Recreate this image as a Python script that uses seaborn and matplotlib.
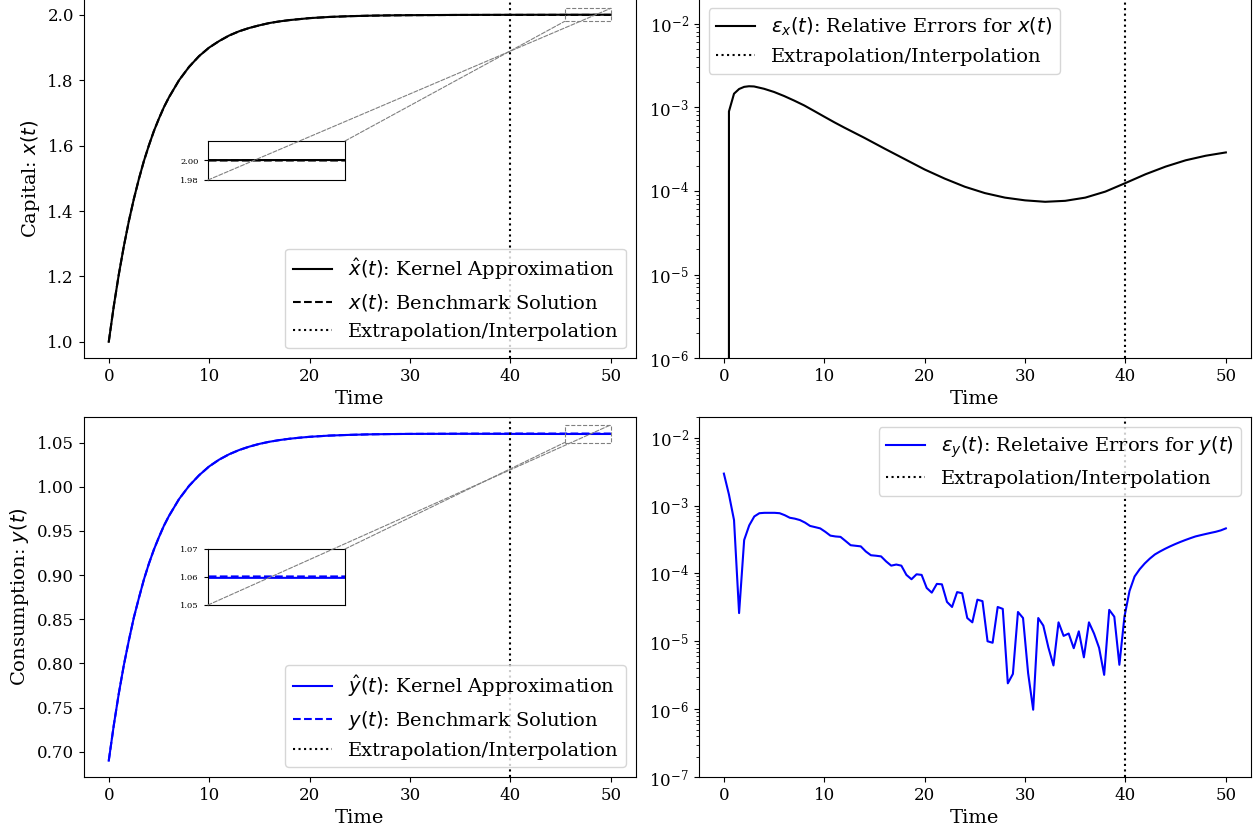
import numpy as np
import pandas as pd
import matplotlib
matplotlib.use("Agg")
import matplotlib.pyplot as plt
from matplotlib.patches import Rectangle, ConnectionPatch
from matplotlib.ticker import FormatStrFormatter
import seaborn as sns

plt.rcParams['font.family'] = ['DejaVu Serif']
plt.rcParams['mathtext.fontset'] = 'dejavusans'

# ---------------- data ----------------
t_path = [0, 0.5, 1, 1.5, 2, 2.5, 3, 3.5, 4, 4.5, 5, 5.5, 6, 7, 8, 9, 10,
          11, 12, 13, 14, 15, 16, 17, 18, 19, 20, 22, 24, 26, 28, 30, 35, 40, 45, 50]

x_bench = [1.000, 1.109, 1.206, 1.292, 1.369, 1.437, 1.498, 1.553, 1.601, 1.645,
           1.683, 1.718, 1.748, 1.800, 1.841, 1.874, 1.900,
           1.920, 1.937, 1.950, 1.960, 1.968, 1.975, 1.980, 1.984, 1.987, 1.990,
           1.9937, 1.9960, 1.9975, 1.9984, 1.9990, 1.9997, 1.9999, 2.0000, 2.0000]
x_kernel = [1.000, 1.109, 1.206, 1.292, 1.369, 1.437, 1.498, 1.553, 1.601, 1.645,
            1.683, 1.718, 1.748, 1.800, 1.841, 1.874, 1.900,
            1.920, 1.937, 1.950, 1.960, 1.968, 1.975, 1.980, 1.984, 1.987, 1.990,
            1.9937, 1.9960, 1.9975, 1.9985, 1.9991, 1.9999, 2.0002, 2.0004, 2.0005]

y_bench = [0.690, 0.730, 0.766, 0.798, 0.826, 0.852, 0.874, 0.895, 0.913, 0.929,
           0.943, 0.956, 0.967, 0.986, 1.001, 1.013, 1.023,
           1.0307, 1.0368, 1.0416, 1.0454, 1.0485, 1.0509, 1.0528, 1.0543, 1.0555, 1.0565,
           1.0579, 1.0587, 1.0593, 1.0596, 1.0598, 1.0601, 1.0602, 1.0602, 1.0602]
y_kernel = [0.690, 0.730, 0.766, 0.798, 0.826, 0.852, 0.874, 0.895, 0.913, 0.929,
            0.943, 0.956, 0.967, 0.986, 1.001, 1.013, 1.023,
            1.0307, 1.0368, 1.0416, 1.0454, 1.0485, 1.0509, 1.0528, 1.0543, 1.0555, 1.0565,
            1.0579, 1.0587, 1.0593, 1.0596, 1.0598, 1.0599, 1.0598, 1.0597, 1.0597]

t_errx = [0, 0.505, 1.01, 1.515, 2.02, 2.5, 3, 4, 5, 6, 7, 8, 9, 10, 11, 12,
          14, 16, 18, 20, 22, 24, 26, 28, 30, 32, 34, 36, 38, 40, 42, 44, 46, 48, 50]
err_x = [0.0, 8.9e-4, 1.45e-3, 1.65e-3, 1.75e-3, 1.78e-3, 1.77e-3, 1.66e-3, 1.52e-3,
         1.36e-3, 1.2e-3, 1.05e-3, 9.0e-4, 7.7e-4, 6.6e-4, 5.7e-4,
         4.3e-4, 3.2e-4, 2.4e-4, 1.80e-4, 1.40e-4, 1.12e-4, 9.4e-5, 8.3e-5, 7.7e-5,
         7.4e-5, 7.6e-5, 8.3e-5, 9.8e-5, 1.24e-4, 1.58e-4, 1.95e-4, 2.32e-4, 2.63e-4, 2.88e-4]

t_grid = np.linspace(0, 50, 100)
err_y = [2.95e-3, 1.45e-3, 6.1e-4, 2.6e-5, 3.1e-4, 5.1e-4, 6.9e-4, 7.7e-4, 7.8e-4, 7.8e-4,
         7.8e-4, 7.7e-4, 7.2e-4, 6.6e-4, 6.4e-4, 6.1e-4, 5.6e-4, 5.0e-4, 4.8e-4, 4.6e-4,
         4.1e-4, 3.6e-4, 3.5e-4, 3.45e-4, 3.0e-4, 2.6e-4, 2.55e-4, 2.5e-4, 2.1e-4, 1.85e-4,
         1.82e-4, 1.78e-4, 1.5e-4, 1.3e-4, 1.35e-4, 1.3e-4, 9.5e-5, 8.2e-5, 9.7e-5, 9.5e-5,
         6.1e-5, 5.2e-5, 7.0e-5, 6.9e-5, 3.8e-5, 3.2e-5, 5.3e-5, 5.1e-5, 2.2e-5, 1.9e-5,
         4.1e-5, 3.9e-5, 1.0e-5, 9.5e-6, 3.2e-5, 3.0e-5, 2.4e-6, 3.3e-6, 2.7e-5, 2.2e-5,
         3.4e-6, 9.8e-7, 2.2e-5, 1.7e-5, 8.1e-6, 4.4e-6, 1.9e-5, 1.2e-5, 1.3e-5, 7.9e-6,
         1.4e-5, 5.8e-6, 1.9e-5, 1.3e-5, 8.0e-6, 3.2e-6, 2.9e-5, 2.3e-5, 4.5e-6, 2.3e-5,
         5.5e-5, 9.0e-5, 1.15e-4, 1.4e-4, 1.65e-4, 1.9e-4, 2.1e-4, 2.3e-4, 2.5e-4, 2.7e-4,
         2.9e-4, 3.1e-4, 3.3e-4, 3.5e-4, 3.65e-4, 3.8e-4, 3.95e-4, 4.1e-4, 4.3e-4, 4.6e-4]

t_split = 40

# ---------------- figure ----------------
fig, axes = plt.subplots(2, 2, figsize=(12.58, 8.26), dpi=100)
fig.subplots_adjust(left=0.0665, right=0.9944, bottom=0.0593, top=1.002,
                    wspace=0.114, hspace=0.164)

FS_LAB = 14
FS_TICK = 12
FS_LEG = 14


def path_panel(ax, t, kern, bench, color, klab, blab, ylabel, zoom_ylim, zoom_ticks, inset_rect):
    sns.lineplot(x=t, y=kern, ax=ax, color=color, lw=1.5, label=klab,
                 sort=False, estimator=None)
    sns.lineplot(x=t, y=bench, ax=ax, color=color, lw=1.5, linestyle='--',
                 label=blab, sort=False, estimator=None)
    ax.axvline(t_split, color='k', ls=':', lw=1.5, label='Extrapolation/Interpolation')
    ax.set_xlabel('Time', fontsize=FS_LAB)
    ax.set_ylabel(ylabel, fontsize=FS_LAB)
    ax.tick_params(labelsize=FS_TICK)
    ax.legend(loc='lower right', fontsize=FS_LEG)

    x0, x1 = 45.4, 50.0
    y0, y1 = zoom_ylim
    axin = fig.add_axes(inset_rect)
    sns.lineplot(x=t, y=kern, ax=axin, color=color, lw=1.5, sort=False, estimator=None)
    sns.lineplot(x=t, y=bench, ax=axin, color=color, lw=1.5, linestyle='--',
                 sort=False, estimator=None)
    axin.set_xlim(x0, x1)
    axin.set_ylim(y0, y1)
    axin.set_xticks([])
    axin.set_yticks(zoom_ticks)
    axin.yaxis.set_major_formatter(FormatStrFormatter('%.2f'))
    axin.tick_params(labelsize=6, length=3)
    axin.set_xlabel('')
    axin.set_ylabel('')

    ax.add_patch(Rectangle((x0, y0), x1 - x0, y1 - y0, fill=False, ec='0.5',
                           ls='--', lw=0.8, zorder=5))
    for a, b in [((0, 0), (x1, y1)), ((1, 1), (x0, y0))]:
        cp = ConnectionPatch(xyA=a, coordsA=axin.transAxes, xyB=b, coordsB=ax.transData,
                             color='0.5', ls='--', lw=0.8, zorder=10)
        fig.add_artist(cp)


path_panel(axes[0, 0], t_path, x_kernel, x_bench, 'k',
           r'$\hat{x}(t)$: Kernel Approximation', r'$x(t)$: Benchmark Solution',
           r'Capital: $x(t)$', (1.98, 2.02), [1.98, 2.00],
           [208 / 1258, 1 - 180 / 826, 137 / 1258, 39 / 826])

path_panel(axes[1, 0], t_path, y_kernel, y_bench, 'b',
           r'$\hat{y}(t)$: Kernel Approximation', r'$y(t)$: Benchmark Solution',
           r'Consumption: $y(t)$', (1.05, 1.07), [1.05, 1.06, 1.07],
           [208 / 1258, 1 - 605 / 826, 137 / 1258, 56 / 826])


def err_panel(ax, t, err, color, lab, ylim, loc):
    sns.lineplot(x=t, y=err, ax=ax, color=color, lw=1.5, label=lab,
                 sort=False, estimator=None)
    ax.axvline(t_split, color='k', ls=':', lw=1.5, label='Extrapolation/Interpolation')
    ax.set_yscale('log')
    ax.set_ylim(*ylim)
    ax.set_xlim(-2.5, 52.5)
    ax.set_xlabel('Time', fontsize=FS_LAB)
    ax.set_ylabel('')
    ax.tick_params(labelsize=FS_TICK)
    ax.legend(loc=loc, fontsize=FS_LEG)


err_panel(axes[0, 1], t_errx, err_x, 'k',
          r'$\varepsilon_x(t)$: Relative Errors for $x(t)$', (1e-6, 2e-2), 'upper left')
err_panel(axes[1, 1], t_grid, err_y, 'b',
          r'$\varepsilon_y(t)$: Reletaive Errors for $y(t)$', (1e-7, 2e-2), 'upper right')

fig.savefig('out.png', dpi=100)
